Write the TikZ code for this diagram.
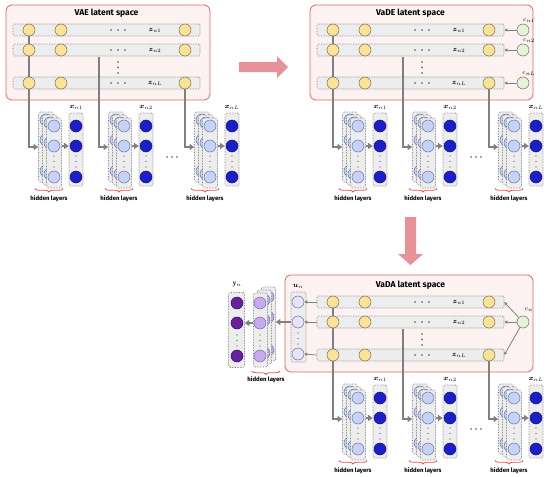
\documentclass[tikz,border=0pt]{standalone}
\usepackage{fontspec}
\setsansfont{Fira Sans}
\usepackage{amsmath,bm}
\usetikzlibrary{arrows.meta,decorations.pathreplacing}
\definecolor{panelred}{RGB}{226,100,100}
\definecolor{panelfill}{RGB}{253,242,242}
\definecolor{rowfill}{RGB}{237,237,237}
\definecolor{rowdraw}{RGB}{120,120,120}
\definecolor{zyellow}{RGB}{249,227,150}
\definecolor{zdraw}{RGB}{120,110,80}
\definecolor{hblue}{RGB}{199,211,246}
\definecolor{hdraw}{RGB}{100,115,160}
\definecolor{xblue}{RGB}{28,30,204}
\definecolor{xdraw}{RGB}{20,20,110}
\definecolor{cgreen}{RGB}{228,243,220}
\definecolor{ulav}{RGB}{234,227,247}
\definecolor{hpurple}{RGB}{201,168,242}
\definecolor{ypurple}{RGB}{107,31,158}
\definecolor{conngray}{RGB}{128,128,128}
\definecolor{bigarrow}{RGB}{232,146,152}
\definecolor{bracered}{RGB}{226,85,85}
\pgfdeclarelayer{bg}
\pgfdeclarelayer{mid}
\pgfsetlayers{bg,mid,main}
\tikzset{
  panel/.style={draw=panelred, fill=panelfill, line width=0.8pt, rounded corners=6pt},
  boxbase/.style={draw=rowdraw, fill=rowfill, densely dotted, line width=0.6pt, rounded corners=1.5pt, inner sep=0pt},
  rowbox/.style={boxbase, minimum width=187pt, minimum height=12pt},
  neuron/.style={circle, line width=0.5pt, minimum size=12pt, inner sep=0pt},
  zc/.style={neuron, fill=zyellow, draw=zdraw},
  hc/.style={neuron, fill=hblue, draw=hdraw},
  xc/.style={neuron, fill=xblue, draw=xdraw},
  cc/.style={neuron, fill=cgreen, draw=zdraw},
  uc/.style={neuron, fill=ulav, draw=hdraw},
  pc/.style={neuron, fill=hpurple, draw=hdraw},
  yc/.style={neuron, fill=ypurple, draw=xdraw},
  conn/.style={draw=conngray, line width=1.8pt, -{Triangle[length=4.5pt,width=6pt]}},
  cconn/.style={draw=conngray, line width=0.8pt, -{Triangle[length=3pt,width=3pt]}},
  bigtitle/.style={font=\sffamily\bfseries\fontsize{8.5}{9}\selectfont, inner sep=0pt},
  hl/.style={font=\sffamily\bfseries\fontsize{6}{7}\selectfont, inner sep=0pt},
  lab/.style={font=\fontsize{7.5}{8}\selectfont, inner sep=0pt},
  clab/.style={font=\fontsize{6}{7}\selectfont, inner sep=0pt},
  redbrace/.style={draw=bracered, line width=0.8pt, decorate, decoration={brace, mirror, amplitude=3.5pt}},
  dotc/.style={fill=black!70},
}
% latent panel: #1 prefix, #2 panel rectangle, #3 title
\newcommand\latentpanel[3]{%
  \begin{pgfonlayer}{bg}
    \draw[panel] #2;
    \foreach \i/\yy in {1/30,2/50,3/83}{\node[rowbox] (#1r\i) at (106.5,\yy) {};}
  \end{pgfonlayer}
  \node[bigtitle] (#1title) at (106.5,13.5) {#3};
  \foreach \i/\yy/\lb in {1/30/1,2/50/2,3/83/L}{%
    \node[zc] (#1r\i-a) at (29,\yy) {};
    \node[zc] (#1r\i-b) at (61,\yy) {};
    \node[zc] (#1r\i-c) at (185,\yy) {};
    \node[lab] (#1r\i-z) at (155,\yy) {$\bm{z}_{n\lb}$};
    \fill[dotc] (111,\yy) circle (0.8pt) (118,\yy) circle (0.8pt) (125,\yy) circle (0.8pt);
  }
  \fill[dotc] (118,62) circle (0.8pt) (118,67.5) circle (0.8pt) (118,73) circle (0.8pt);
}
% decoder: #1 prefix, #2 line x, #3 subscript, #4 start point
\newcommand\decoder[4]{%
  \pgfmathsetmacro\hx{#2+25}%
  \pgfmathsetmacro\ox{#2+47}%
  \foreach \k/\dx/\dy in {k/-8/-6, m/-4/-3, f/0/0}{%
    \node[boxbase, minimum width=15pt, minimum height=70pt] (#1\k) at ({\hx+(\dx)},{153+(\dy)}) {};
    \foreach \j/\yy in {1/126,2/146,3/177}{\node[hc] (#1\k\j) at ({\hx+(\dx)},{\yy+(\dy)}) {};}
    \fill[dotc] ({\hx+(\dx)},{156+(\dy)}) circle (0.6pt) ({\hx+(\dx)},{161.5+(\dy)}) circle (0.6pt) ({\hx+(\dx)},{167+(\dy)}) circle (0.6pt);
  }
  \node[boxbase, minimum width=14pt, minimum height=73pt] (#1o) at (\ox,149.5) {};
  \foreach \j/\yy in {1/126,2/146,3/177}{\node[xc] (#1o\j) at (\ox,\yy) {};}
  \fill[dotc] (\ox,156) circle (0.6pt) (\ox,161.5) circle (0.6pt) (\ox,167) circle (0.6pt);
  \node[lab] (#1ol) at (\ox,107.5) {$\bm{x}_{n#3}$};
  \begin{pgfonlayer}{mid}
    \draw[conn] (#4) -- (#4 |- #1k.west) -- (#1k.west);
  \end{pgfonlayer}
  \draw[conn] (#1f.east |- #1f2) -- (#1o.west |- #1f2);
  \draw[redbrace] ({\hx-19},188.5) -- ({\hx+9},188.5);
  \node[hl] (#1t) at ({\hx-5},198.5) {hidden layers};
}
\newcommand\decoders[1]{%
  \coordinate (#1t2) at (99,56.5);
  \decoder{#1d1}{29}{1}{#1r1-a.south}
  \decoder{#1d2}{99}{2}{#1t2}
  \decoder{#1d3}{185}{L}{#1r3-c.south}
  \fill[dotc] (167,157) circle (0.8pt) (172,157) circle (0.8pt) (177,157) circle (0.8pt);
}
\begin{document}
\begin{tikzpicture}[x=1pt,y=-1pt]
\useasboundingbox (0,0) rectangle (550,477);
% transition arrows
\fill[bigarrow] (239,62) -- (277,62) -- (277,56) -- (288,67) -- (277,78) -- (277,72) -- (239,72) -- cycle;
\fill[bigarrow] (405,217) -- (416,217) -- (416,254) -- (423,254) -- (410.5,265) -- (398,254) -- (405,254) -- cycle;
% VAE
\begin{scope}
  \latentpanel{a}{(6,5) rectangle (210,100)}{VAE latent space}
  \decoders{a}
\end{scope}
% VaDE
\begin{scope}[shift={(304,0)}]
  \latentpanel{b}{(6,5) rectangle (229,100)}{VaDE latent space}
  \decoders{b}
  \foreach \i/\yy/\lb in {1/30/1,2/50/2,3/83/L}{%
    \node[cc] (bc\i) at (219,\yy) {};
    \node[clab] (bcl\i) at (225,{\yy-9}) {$c_{n\lb}$};
    \draw[cconn] (bc\i.west) -- (br\i.east);
  }
\end{scope}
% VaDA
\begin{scope}[shift={(304,272)}]
  \latentpanel{c}{(-19,3) rectangle (229,100)}{VaDA latent space}
  \decoders{c}
  \node[cc] (ccn) at (219,50) {};
  \node[clab] (ccnl) at (225,38) {$c_{n}$};
  \draw[cconn] (ccn) -- (cr1.east);
  \draw[cconn] (ccn) -- (cr2.east);
  \draw[cconn] (ccn) -- (cr3.east);
  % u column
  \node[boxbase, minimum width=15pt, minimum height=70pt] (ub) at (-5.5,55) {};
  \foreach \i/\yy in {1/30,2/50,3/82}{%
    \node[uc] (u\i) at (-6,\yy) {};
    \draw[cconn] (cr\i.west) -- (u\i.east);
  }
  \fill[dotc] (-6,61) circle (0.6pt) (-6,66.5) circle (0.6pt) (-6,72) circle (0.6pt);
  \node[lab] (ul) at (-6,14) {$\bm{u}_{n}$};
  % purple hidden stack
  \foreach \k/\dx/\dy in {k/8/-6, m/4/-3, f/0/0}{%
    \node[boxbase, minimum width=14pt, minimum height=74pt] (p\k) at ({-43.5+(\dx)},{58+(\dy)}) {};
    \foreach \j/\yy in {1/31,2/51,3/84}{\node[pc] (p\k\j) at ({-44+(\dx)},{\yy+(\dy)}) {};}
    \fill[dotc] ({-44+(\dx)},{63+(\dy)}) circle (0.6pt) ({-44+(\dx)},{68.5+(\dy)}) circle (0.6pt) ({-44+(\dx)},{74+(\dy)}) circle (0.6pt);
  }
  % y output
  \node[boxbase, minimum width=16pt, minimum height=75pt] (yb) at (-67.5,58) {};
  \foreach \j/\yy in {1/31,2/51,3/84}{\node[yc] (y\j) at (-67,\yy) {};}
  \fill[dotc] (-67,63) circle (0.6pt) (-67,68.5) circle (0.6pt) (-67,74) circle (0.6pt);
  \node[lab] (yl) at (-67,13) {$\mathbf{y}_{n}$};
  \draw[conn] (ub.west |- u2) -- (pk.east |- u2);
  \draw[conn] (pf.west |- pf2) -- (yb.east |- pf2);
  \draw[redbrace] (-52,99) -- (-24,99);
  \node[hl] (pt) at (-38,107.5) {hidden layers};
\end{scope}
\end{tikzpicture}
\end{document}
